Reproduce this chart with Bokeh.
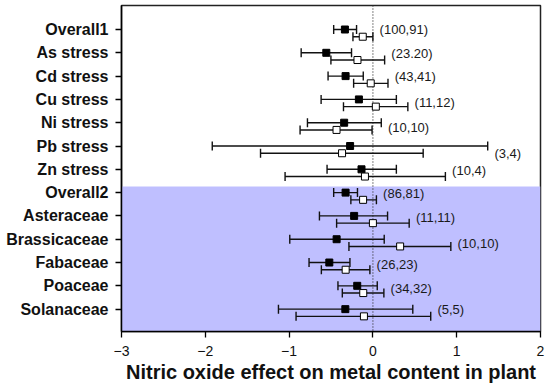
from math import pi
from bokeh.plotting import figure
from bokeh.models import Range1d, FixedTicker, BoxAnnotation, Span, ColumnDataSource
from bokeh.core.properties import value
from bokeh.embed import file_html
from bokeh.resources import INLINE

categories = ["Overall1", "As stress", "Cd stress", "Cu stress", "Ni stress", "Pb stress",
              "Zn stress", "Overall2", "Asteraceae", "Brassicaceae", "Fabaceae", "Poaceae",
              "Solanaceae"]
# filled squares
a_mean = [-0.334, -0.556, -0.326, -0.167, -0.343, -0.272, -0.136, -0.326, -0.224, -0.433, -0.52, -0.187, -0.329]
a_lo = [-0.468, -0.856, -0.535, -0.618, -0.781, -1.917, -0.547, -0.468, -0.638, -0.992, -0.762, -0.417, -1.127]
a_hi = [-0.195, -0.255, -0.115, 0.28, 0.10, 1.37, 0.28, -0.184, 0.175, 0.135, -0.274, 0.052, 0.476]
# open squares
b_mean = [-0.121, -0.184, -0.026, 0.035, -0.434, -0.368, -0.095, -0.117, 0.0, 0.325, -0.325, -0.115, -0.107]
b_lo = [-0.238, -0.501, -0.23, -0.351, -0.869, -1.341, -1.048, -0.263, -0.433, -0.286, -0.615, -0.365, -0.917]
b_hi = [0.0, 0.14, 0.18, 0.417, -0.01, 0.60, 0.865, 0.042, 0.433, 0.93, -0.036, 0.131, 0.69]
counts = ["(100,91)", "(23.20)", "(43,41)", "(11,12)", "(10,10)", "(3,4)", "(10,4)",
          "(86,81)", "(11,11)", "(10,10)", "(26,23)", "(34,32)", "(5,5)"]
count_drop = [0.0, 0.05, 0.0, 0.12, 0.22, 0.31, 0.03, 0.05, 0.06, 0.18, 0.1, 0.13, 0.03]
shade_top = 6.26
x_ticks = [-3, -2, -1, 0, 1, 2]

n = len(categories)
ypos = [n - i for i in range(n)]
yopen = [y - 0.31 for y in ypos]

src_a = ColumnDataSource(dict(y=ypos, m=a_mean, lo=a_lo, hi=a_hi))
src_b = ColumnDataSource(dict(y=yopen, m=b_mean, lo=b_lo, hi=b_hi))
src_t = ColumnDataSource(dict(
    x=[max(h1, h2) + 0.08 for h1, h2 in zip(a_hi, b_hi)],
    y=[y - d for y, d in zip(ypos, count_drop)],
    t=counts))

p = figure(width=548, height=389, x_range=Range1d(-3, 2), y_range=Range1d(0.04, 14.03),
           output_backend="svg", toolbar_location=None,
           min_border_left=121, min_border_right=8, min_border_top=5, min_border_bottom=58)

p.add_layout(BoxAnnotation(top=shade_top, fill_color="#BFBFFF", fill_alpha=1.0,
                           line_alpha=0, level="underlay"))
p.add_layout(Span(location=0, dimension="height", line_color="#333333",
                  line_dash="1 2", line_width=1.2, level="underlay"))

for src, fill in ((src_a, "black"), (src_b, "white")):
    p.segment(x0="lo", x1="hi", y0="y", y1="y", source=src, line_color="#111111", line_width=1.4)
    p.scatter(x="lo", y="y", source=src, marker="dash", angle=pi / 2, size=9,
              line_color="#111111", line_width=1.4)
    p.scatter(x="hi", y="y", source=src, marker="dash", angle=pi / 2, size=9,
              line_color="#111111", line_width=1.4)
    p.scatter(x="m", y="y", source=src, marker="square", size=7, fill_color=fill,
              line_color="black", line_width=1)

p.text(x="x", y="y", text="t", source=src_t, text_font=value("Liberation Sans"),
       text_font_size="13px", text_baseline="middle", text_align="left", text_color="#1a1a1a")

p.xgrid.visible = False
p.ygrid.visible = False
p.outline_line_color = "#222222"
p.outline_line_width = 1.5
p.background_fill_color = "white"
p.border_fill_color = "white"

xa = p.xaxis[0]
xa.ticker = FixedTicker(ticks=x_ticks)
xa.minor_tick_line_color = None
xa.major_tick_out = 6
xa.major_tick_in = 0
xa.major_label_standoff = 8
xa.major_label_text_font = "Liberation Sans"
xa.major_label_text_font_size = "14px"
xa.major_label_text_color = "#111111"
xa.axis_line_width = 1.5
xa.major_tick_line_width = 1.3
xa.axis_label = "Nitric oxide effect on metal content in plant"
xa.axis_label_text_font = "Liberation Sans"
xa.axis_label_text_font_style = "bold"
xa.axis_label_text_font_size = "20px"
xa.axis_label_standoff = 2
xa.axis_label_text_color = "#111111"

ya = p.yaxis[0]
ya.ticker = FixedTicker(ticks=ypos)
ya.major_label_overrides = {y: c for y, c in zip(ypos, categories)}
ya.minor_tick_line_color = None
ya.major_tick_out = 6
ya.major_tick_in = 0
ya.major_label_standoff = 7
ya.major_label_text_font = "Liberation Sans"
ya.major_label_text_font_style = "bold"
ya.major_label_text_font_size = "16px"
ya.major_label_text_color = "#111111"
ya.axis_line_width = 1.5
ya.major_tick_line_width = 1.3

open("out.html", "w").write(file_html(p, INLINE))
